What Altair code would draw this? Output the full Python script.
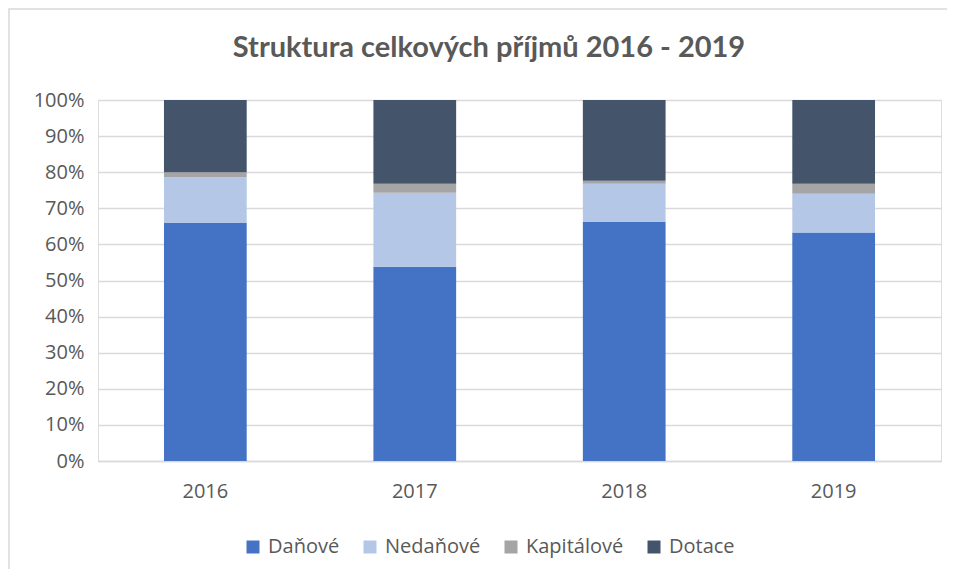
import altair as alt
import pandas as pd

title_text = "Struktura celkových příjmů 2016 - 2019"
years = ["2016", "2017", "2018", "2019"]
categories = ["Daňové", "Nedaňové", "Kapitálové", "Dotace"]
colors = ["#4472C4", "#B4C7E7", "#A5A5A5", "#44546A"]

danove = [65.9, 53.8, 66.2, 63.3]
nedanove = [12.7, 20.5, 10.6, 10.7]
kapitalove = [1.4, 2.5, 0.8, 2.8]
dotace = [20.0, 23.2, 22.4, 23.2]

series = [danove, nedanove, kapitalove, dotace]
rows = []
for ci, (cat, vals) in enumerate(zip(categories, series)):
    for y, v in zip(years, vals):
        rows.append({"rok": y, "druh": cat, "podil": v, "poradi": ci})
df = pd.DataFrame(rows)

FONT = "Open Sans"
GRAY = "#595959"
GRID = "#D9D9D9"

bars = alt.Chart(df).mark_bar().encode(
    x=alt.X("rok:N", sort=years, title=None,
            scale=alt.Scale(paddingInner=0.605, paddingOuter=0.315),
            axis=alt.Axis(labelAngle=0, ticks=False, domainColor=GRID, domainWidth=1.5,
                          labelFontSize=20, labelColor=GRAY, labelFont=FONT, labelPadding=20)),
    y=alt.Y("podil:Q", stack="normalize", title=None,
            scale=alt.Scale(domain=[0, 1]),
            axis=alt.Axis(format=".0%", values=[i / 10 for i in range(11)], ticks=False,
                          domain=False, gridColor=GRID, gridWidth=1.5,
                          labelFontSize=20, labelColor=GRAY, labelFont=FONT, labelPadding=14)),
    color=alt.Color("druh:N", sort=categories,
                    scale=alt.Scale(domain=categories, range=colors),
                    legend=alt.Legend(title=None, orient="none", direction="horizontal",
                                      legendX=145, legendY=437, symbolType="square",
                                      symbolSize=169, symbolStrokeWidth=0, symbolOffset=0,
                                      labelFontSize=20, labelColor=GRAY, labelFont=FONT,
                                      labelOffset=5, columnPadding=20, padding=0)),
    order=alt.Order("poradi:Q", sort="ascending"),
)

single = alt.Data(values=[{}])

frame = alt.Chart(single).mark_rect(
    fill=None, stroke=GRID, strokeWidth=1.5
).encode(
    x=alt.value(-89), x2=alt.value(1200), y=alt.value(-91), y2=alt.value(1000)
)

title = alt.Chart(single).mark_text(
    font="Lato", fontWeight="bold", fontSize=29, color=GRAY, align="center", baseline="middle"
).encode(
    x=alt.value(391), y=alt.value(-52), text=alt.value(title_text)
)

chart = alt.layer(frame, title, bars).properties(
    width=843, height=361,
    padding={"left": 90, "top": 92, "right": 6, "bottom": 108},
    autosize=alt.AutoSizeParams(type="none"),
).configure_view(stroke=None).configure(background="white")

chart.save("out.html", embed_options={"renderer": "svg", "actions": False})
